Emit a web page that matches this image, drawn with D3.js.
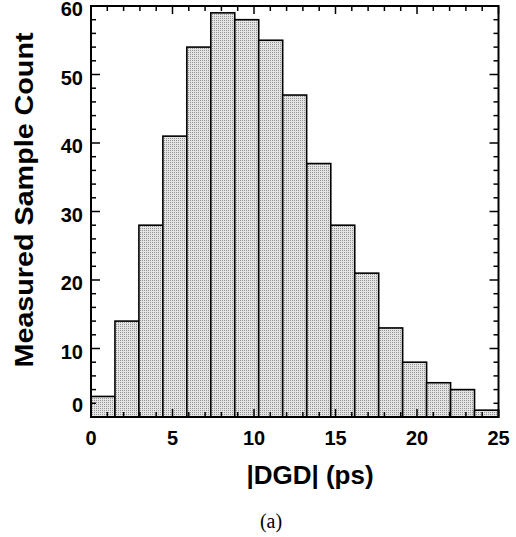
<html>
<head>
  <meta charset="utf-8">
  <style>
    body { margin: 0; background: #fff; }
    svg { display: block; }
    .lbl { font-family: "Liberation Sans", Arial, sans-serif; font-weight: bold; fill: #000; }
  </style>
</head>
<body>
  <svg></svg>
  <script src="https://d3js.org/d3.v7.min.js"></script>
  <script>
    let width = 516, height = 537;

    // histogram data
    const binStart = [0, 1.47, 2.94, 4.41, 5.88, 7.35, 8.82, 10.29, 11.76, 13.24, 14.71, 16.18, 17.65, 19.12, 20.59, 22.06, 23.53];
    const binWidth = 1.47;
    const counts = [3, 14, 28, 41, 54, 59, 58, 55, 47, 37, 28, 21, 13, 8, 5, 4, 1];
    const xTicks = [0, 5, 10, 15, 20, 25];
    const yTicks = [0, 10, 20, 30, 40, 50, 60];

    let svg = d3.select("svg")
        .attr("width", width)
        .attr("height", height);

    // stipple fill
    let pat = svg.append("defs").append("pattern")
        .attr("id", "dots")
        .attr("width", 2).attr("height", 2)
        .attr("patternUnits", "userSpaceOnUse");
    pat.append("rect").attr("width", 2).attr("height", 2).attr("fill", "#e4e4e4");
    pat.append("rect").attr("width", 1).attr("height", 1).attr("fill", "#939393");

    let pLeft = 91, pRight = 498.5, pTop = 6, pBottom = 417;

    let x = d3.scaleLinear().domain([0, 25]).range([pLeft, pRight]);
    let y = d3.scaleLinear().domain([0, 60]).range([pBottom, pTop]);

    // bars
    svg.append("g")
        .selectAll("rect")
        .data(counts)
        .enter()
        .append("rect")
        .attr("x", (d, i) => x(binStart[i]))
        .attr("width", x(binWidth) - x(0))
        .attr("y", d => y(d))
        .attr("height", d => y(0) - y(d))
        .attr("fill", "url(#dots)")
        .attr("stroke", "#000")
        .attr("stroke-width", 1.6);

    // inward ticks on all four sides
    let tickG = svg.append("g").attr("stroke", "#000").attr("stroke-width", 1.5);
    d3.range(0, 26, 1).forEach(v => {
      let len = v % 5 === 0 ? 8 : 5;
      tickG.append("line").attr("x1", x(v)).attr("x2", x(v)).attr("y1", pBottom).attr("y2", pBottom - len);
      tickG.append("line").attr("x1", x(v)).attr("x2", x(v)).attr("y1", pTop).attr("y2", pTop + len);
    });
    d3.range(0, 61, 2).forEach(v => {
      let len = v % 10 === 0 ? 9 : 5;
      tickG.append("line").attr("y1", y(v)).attr("y2", y(v)).attr("x1", pLeft).attr("x2", pLeft + len);
      tickG.append("line").attr("y1", y(v)).attr("y2", y(v)).attr("x1", pRight).attr("x2", pRight - len);
    });

    // frame
    svg.append("rect")
        .attr("x", pLeft).attr("y", pTop)
        .attr("width", pRight - pLeft).attr("height", pBottom - pTop)
        .attr("fill", "none")
        .attr("stroke", "#000")
        .attr("stroke-width", 2);

    // tick labels
    svg.append("g").selectAll("text")
        .data(xTicks).enter().append("text")
        .attr("class", "lbl")
        .attr("x", d => x(d))
        .attr("y", 445)
        .attr("text-anchor", "middle")
        .style("font-size", "20px")
        .text(d => d);

    svg.append("g").selectAll("text")
        .data(yTicks).enter().append("text")
        .attr("class", "lbl")
        .attr("x", 83)
        .attr("y", d => y(d) + (d === 0 ? -5 : 10))
        .attr("text-anchor", "end")
        .style("font-size", "20px")
        .text(d => d);

    // axis titles
    svg.append("text")
        .attr("class", "lbl")
        .attr("x", 310).attr("y", 484)
        .attr("text-anchor", "middle")
        .style("font-size", "26px")
        .text("|DGD| (ps)");

    svg.append("text")
        .attr("class", "lbl")
        .attr("transform", "translate(33,200) rotate(-90)")
        .attr("text-anchor", "middle")
        .attr("textLength", 335)
        .attr("lengthAdjust", "spacingAndGlyphs")
        .style("font-size", "25px")
        .text("Measured Sample Count");

    svg.append("text")
        .attr("x", 271).attr("y", 528)
        .attr("text-anchor", "middle")
        .style("font-family", "'Liberation Serif', 'Times New Roman', serif")
        .style("font-size", "20px")
        .text("(a)");
  </script>
</body>
</html>
